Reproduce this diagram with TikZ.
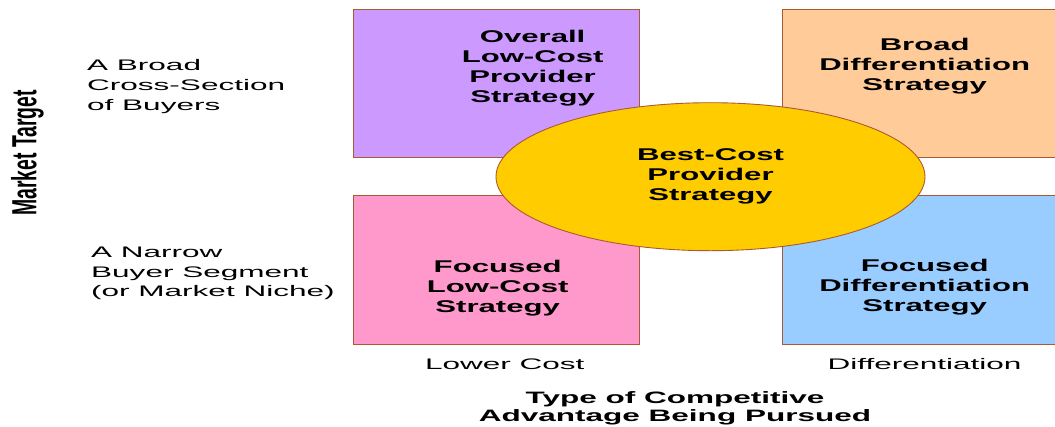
\documentclass[tikz,border=0pt]{standalone}
\usepackage{fontspec}
\usepackage{graphicx}
\setmainfont{Liberation Sans}
\newfontfamily\boxfont[FakeStretch=1.83]{Liberation Sans}
\newfontfamily\regfont[FakeStretch=2.06]{Liberation Sans}
\newfontfamily\titfont[FakeStretch=1.91]{Liberation Sans}
\usetikzlibrary{shapes.geometric}
\definecolor{edge}{RGB}{170,90,50}
\definecolor{qpurple}{HTML}{CC99FF}
\definecolor{qorange}{HTML}{FFCC99}
\definecolor{qpink}{HTML}{FF99CC}
\definecolor{qblue}{HTML}{99CCFF}
\definecolor{qyellow}{HTML}{FFCC00}
\begin{document}
\begin{tikzpicture}[x=1pt,y=-1pt,
  quad/.style={draw=edge,line width=0.9pt,anchor=north west,inner sep=0pt,
    minimum width=286pt,minimum height=148pt},
  boxtext/.style={align=center,inner sep=0pt,
    font=\boxfont\bfseries\fontsize{17pt}{20pt}\selectfont},
  sidetext/.style={align=left,inner sep=0pt,anchor=west,
    font=\regfont\fontsize{15.3pt}{19.7pt}\selectfont},
  axislabel/.style={inner sep=0pt,anchor=base,
    font=\regfont\fontsize{15.3pt}{19.7pt}\selectfont},
  titletext/.style={align=center,inner sep=0pt,
    font=\titfont\bfseries\fontsize{16.5pt}{17.7pt}\selectfont}]
\clip (0,0) rectangle (1055,426);
\fill[white] (0,0) rectangle (1055,426);
% quadrants
\node[quad,fill=qpurple] (olc) at (353,9) {};
\node[quad,fill=qorange] (bd) at (782,9) {};
\node[quad,fill=qpink,minimum height=149pt] (flc) at (353,195) {};
\node[quad,fill=qblue,minimum height=149pt] (fd) at (782,195) {};
% best-cost ellipse
\node[ellipse,draw=edge,line width=0.9pt,fill=qyellow,inner sep=0pt,
  minimum width=429pt,minimum height=148pt,boxtext] (bc) at (710.5,176.7)
  {Best-Cost\\Provider\\Strategy};
% quadrant texts
\node[boxtext] (olct) at (532.6,68.3) {Overall\\Low-Cost\\Provider\\Strategy};
\node[boxtext] (bdt) at (924.7,65.7) {Broad\\Differentiation\\Strategy};
\node[boxtext] (flct) at (497.7,288.1) {Focused\\Low-Cost\\Strategy};
\node[boxtext] (fdt) at (924.7,287.3) {Focused\\Differentiation\\Strategy};
% side labels
\node[sidetext] (broad) at (87,86.5) {A Broad\\Cross-Section\\of Buyers};
\node[sidetext] (narrow) at (91,273.4) {A Narrow\\Buyer Segment\\(or Market Niche)};
\node[inner sep=0pt] (mt) at (27.5,153)
  {\scalebox{1.8}[1]{\rotatebox{90}{\fontsize{19.4pt}{20pt}\selectfont\bfseries Market Target}}};
% bottom labels
\node[axislabel] (lc) at (504.7,369) {Lower Cost};
\node[axislabel] (df) at (924.5,369) {Differentiation};
\node[titletext] (tt) at (675,408.6)
  {Type of Competitive\\Advantage Being Pursued};
\end{tikzpicture}
\end{document}
